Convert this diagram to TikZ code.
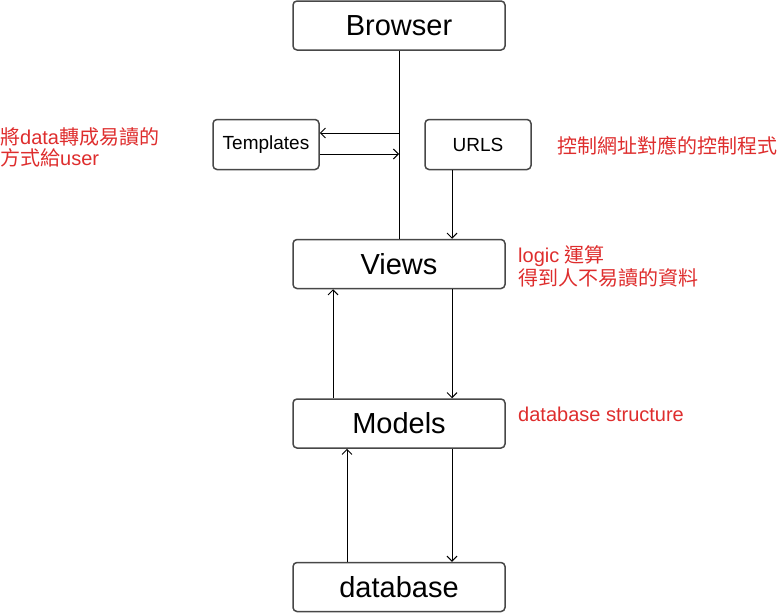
\documentclass[tikz,border=0pt]{standalone}
\usepackage{fontspec}
\setmainfont{Liberation Sans}
\newfontfamily\cjk{Noto Sans CJK TC}
\usetikzlibrary{calc,arrows.meta}
\definecolor{notered}{RGB}{222,45,45}
\tikzset{
  bigbox/.style={draw=black!72, line width=1.5pt, rounded corners=4pt, fill=white,
    minimum width=212pt, minimum height=49pt, inner sep=0pt, font=\fontsize{29}{34}\selectfont},
  smallbox/.style={bigbox, minimum width=106pt, minimum height=50pt, font=\fontsize{19}{22}\selectfont},
  link/.style={line width=1pt, >={Straight Barb[length=5pt,width=10pt]}},
  note/.style={color=notered, anchor=west, align=left, inner sep=0pt, font=\fontsize{20}{23}\selectfont}
}

\begin{document}
\begin{tikzpicture}[x=1pt,y=-1pt]
        \useasboundingbox (0,0) rectangle (783,613);
        \foreach \n/\t/\y in {browser/Browser/25.5, views/Views/264, models/Models/423.5, database/database/587}
        \node[bigbox] (\n) at (399,\y) {\t};
        \node[smallbox] (templates) at (266,144.5) {Templates};
        \node[smallbox] (urls) at (478,144.5) {URLS};
        % notes
        \node[note, font=\fontsize{20}{21}\selectfont] (tnote) at (0,147) {{\cjk 將}data{\cjk 轉成易讀的}\\{\cjk 方式給}user};
        \node[note] (unote) at (557,146) {\cjk 控制網址對應的控制程式};
        \node[note] (vnote) at (518,266) {logic {\cjk 運算}\\{\cjk 得到人不易讀的資料}};
        \node[note] (mnote) at (518,414) {database structure};
        % links
        \coordinate (tin) at (399,133);
        \coordinate (tout) at (399,154);
        \draw[link] (browser.south) -- (views.north);
        \draw[link,->] (tin) -- (tin -| templates.east);
        \draw[link,->] (tout -| templates.east) -- (tout);
        \draw[link,->] ([xshift=-26pt]urls.south) -- ([xshift=-26pt]urls.south |- views.north);
        \draw[link,->] ([xshift=53pt]views.south) -- ([xshift=53pt]models.north);
        \draw[link,->] ([xshift=-66pt]models.north) -- ([xshift=-66pt]views.south);
        \draw[link,->] ([xshift=53pt]models.south) -- ([xshift=53pt]database.north);
        \draw[link,->] ([xshift=-52pt]database.north) -- ([xshift=-52pt]models.south);
\end{tikzpicture}
\end{document}
